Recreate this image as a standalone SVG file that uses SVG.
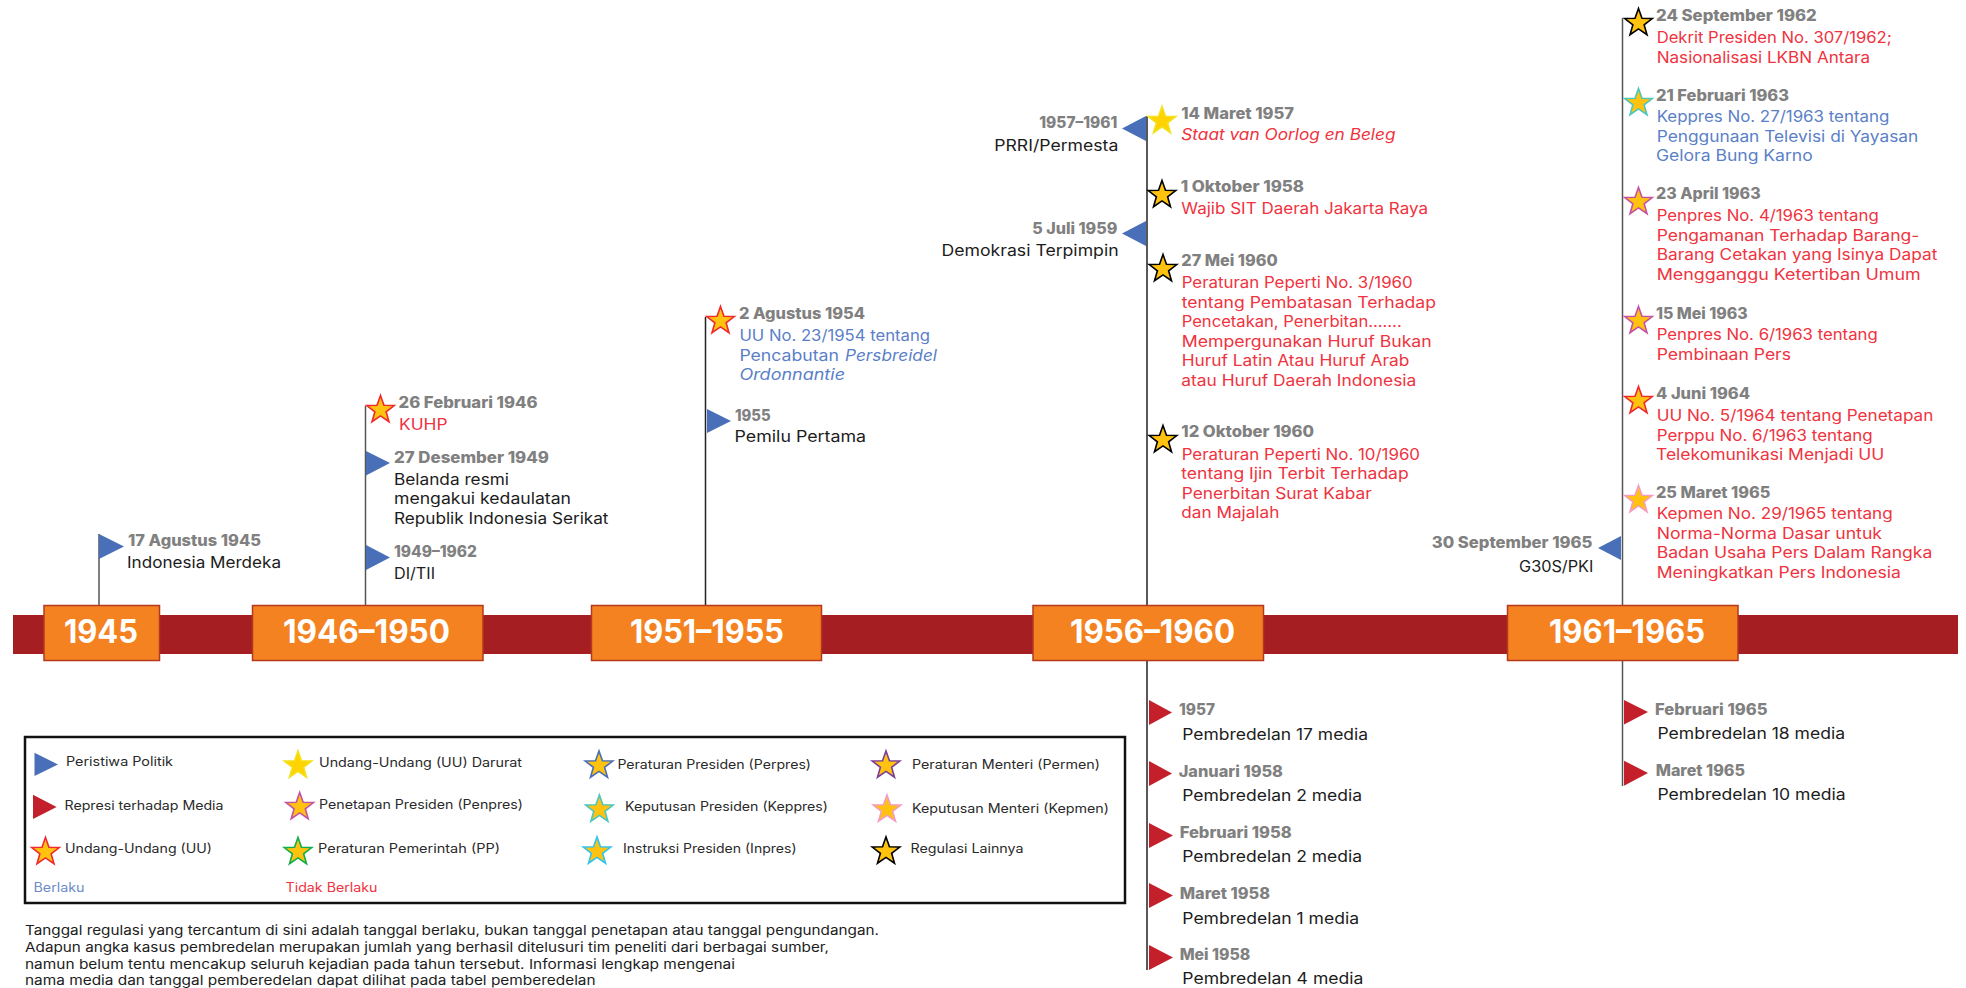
<svg xmlns="http://www.w3.org/2000/svg" width="1966" height="988" viewBox="0 0 1966 988">
<style>
text{font-family:"Inter","Liberation Sans",sans-serif;font-size:15.4px}
.d{font-weight:800;fill:#808080}
.k{fill:#1c1c1c}
.r{fill:#EF3340}
.b{fill:#5B7FC7}
.i{font-style:italic}
.y{font-size:32px;font-weight:700;fill:#fff}
.l{font-size:12.8px;fill:#2a2a2a}
.n{font-size:13px;fill:#1c1c1c}
.box{fill:#F58220;stroke:#B5391E;stroke-width:1.5}
.c{stroke:#555;stroke-width:1.5;fill:none}
.c2{stroke:#222}
.fb{fill:#4A6FB9}
.fr{fill:#C4202B}
.s{fill:#FFC20E;stroke-width:1.6}
.s0{fill:#FFD200;stroke:#F2E21E}
.s1{stroke:#000}.s2{stroke:#EE2A2E}.s3{stroke:#C552A4}.s4{stroke:#4DC6BF}.s5{stroke:#F59CC2}.s6{stroke:#4A6FB9}.s7{stroke:#7A3F9D}.s8{stroke:#12AD4B}.s9{stroke:#2FC4F0}
</style>
<defs>
<polygon id="star" points="0,-14.5 3.47,-4.77 13.79,-4.48 5.61,1.82 8.52,11.73 0,5.9 -8.52,11.73 -5.61,1.82 -13.79,-4.48 -3.47,-4.77"/>
</defs>
<rect id="bar" x="13" y="615" width="1945" height="39" fill="#A51E22"/>
<g id="connectors">
<path class="c" d="M99 534V606"/>
<path class="c" d="M365.5 406V606"/>
<path class="c c2" d="M705.5 317V606"/>
<path class="c c2" d="M1147 116V606"/>
<path class="c c2" d="M1147 660V970"/>
<path class="c" d="M1622.5 18V606"/>
<path class="c" d="M1622.5 660V786"/>
</g>
<g id="period-1945"><rect class="box" x="44" y="605.5" width="115.5" height="55"/><text class="y" x="64" y="642.7" textLength="74" lengthAdjust="spacingAndGlyphs">1945</text></g>
<g id="period-1946"><rect class="box" x="252.5" y="605.5" width="230.5" height="55"/><text class="y" x="283" y="642.7" textLength="167" lengthAdjust="spacingAndGlyphs">1946–1950</text></g>
<g id="period-1951"><rect class="box" x="591.5" y="605.5" width="230" height="55"/><text class="y" x="630" y="642.7" textLength="154" lengthAdjust="spacingAndGlyphs">1951–1955</text></g>
<g id="period-1956"><rect class="box" x="1033" y="605.5" width="230.5" height="55"/><text class="y" x="1070" y="642.7" textLength="165" lengthAdjust="spacingAndGlyphs">1956–1960</text></g>
<g id="period-1961"><rect class="box" x="1507.5" y="605.5" width="230.5" height="55"/><text class="y" x="1549" y="642.7" textLength="156" lengthAdjust="spacingAndGlyphs">1961–1965</text></g>

<g id="e-17agustus1945"><polygon class="fb" points="99,534 124,546.5 99,559"/><text class="d" x="128" y="546" textLength="133" lengthAdjust="spacingAndGlyphs">17 Agustus 1945</text><text class="k" x="127" y="568" textLength="154" lengthAdjust="spacingAndGlyphs">Indonesia Merdeka</text></g>
<g id="e-26feb1946"><use href="#star" x="380.5" y="410" class="s s2"/><text class="d" x="398.5" y="408" textLength="139" lengthAdjust="spacingAndGlyphs">26 Februari 1946</text><text class="r" x="399" y="430" textLength="48.5" lengthAdjust="spacingAndGlyphs">KUHP</text></g>
<g id="e-27des1949"><polygon class="fb" points="366,451 390,463 366,475.5"/><text class="d" x="394" y="463" textLength="155" lengthAdjust="spacingAndGlyphs">27 Desember 1949</text><text class="k" x="394" y="485" textLength="115" lengthAdjust="spacingAndGlyphs">Belanda resmi</text><text class="k" x="394" y="504" textLength="177" lengthAdjust="spacingAndGlyphs">mengakui kedaulatan</text><text class="k" x="394" y="524" textLength="214.5" lengthAdjust="spacingAndGlyphs">Republik Indonesia Serikat</text></g>
<g id="e-1949"><polygon class="fb" points="366,545 390,557.5 366,570"/><text class="d" x="394" y="557" textLength="83" lengthAdjust="spacingAndGlyphs">1949–1962</text><text class="k" x="394" y="579" textLength="41" lengthAdjust="spacingAndGlyphs">DI/TII</text></g>
<g id="e-2agustus1954"><use href="#star" x="720.5" y="321" class="s s2"/><text class="d" x="739" y="319.3" textLength="126" lengthAdjust="spacingAndGlyphs">2 Agustus 1954</text><text class="b" x="739.4" y="341" textLength="190.6" lengthAdjust="spacingAndGlyphs">UU No. 23/1954 tentang</text><text class="b" x="739.4" y="361" textLength="99.6" lengthAdjust="spacingAndGlyphs">Pencabutan</text><text class="b i" x="845" y="361" textLength="92" lengthAdjust="spacingAndGlyphs">Persbreidel</text><text class="b i" x="739.4" y="380" textLength="105.6" lengthAdjust="spacingAndGlyphs">Ordonnantie</text></g>
<g id="e-1955"><polygon class="fb" points="707,409 731,421 707,433"/><text class="d" x="735" y="421" textLength="35.6" lengthAdjust="spacingAndGlyphs">1955</text><text class="k" x="734.6" y="442" textLength="131.4" lengthAdjust="spacingAndGlyphs">Pemilu Pertama</text></g>

<g id="e-1957-1961"><polygon class="fb" points="1146,116 1122,128.5 1146,141"/><text class="d" x="1039.3" y="128.3" textLength="78" lengthAdjust="spacingAndGlyphs">1957–1961</text><text class="k" x="994.3" y="151.3" textLength="124" lengthAdjust="spacingAndGlyphs">PRRI/Permesta</text></g>
<g id="e-5juli1959"><polygon class="fb" points="1146,221 1122,233.5 1146,246"/><text class="d" x="1032.3" y="234" textLength="85" lengthAdjust="spacingAndGlyphs">5 Juli 1959</text><text class="k" x="941.6" y="255.7" textLength="177" lengthAdjust="spacingAndGlyphs">Demokrasi Terpimpin</text></g>
<g id="e-14maret1957"><use href="#star" x="1162" y="121" class="s s0"/><text class="d" x="1181.3" y="119" textLength="112.7" lengthAdjust="spacingAndGlyphs">14 Maret 1957</text><text class="r i" x="1181.3" y="140" textLength="214.2" lengthAdjust="spacingAndGlyphs">Staat van Oorlog en Beleg</text></g>
<g id="e-1okt1958"><use href="#star" x="1162" y="195" class="s s1"/><text class="d" x="1180.7" y="191.7" textLength="123.3" lengthAdjust="spacingAndGlyphs">1 Oktober 1958</text><text class="r" x="1181.3" y="213.7" textLength="246.7" lengthAdjust="spacingAndGlyphs">Wajib SIT Daerah Jakarta Raya</text></g>
<g id="e-27mei1960"><use href="#star" x="1163" y="269" class="s s1"/><text class="d" x="1181.3" y="266" textLength="96.4" lengthAdjust="spacingAndGlyphs">27 Mei 1960</text><text class="r" x="1181.7" y="288.3" textLength="231" lengthAdjust="spacingAndGlyphs">Peraturan Peperti No. 3/1960</text><text class="r" x="1181.7" y="308" textLength="254.3" lengthAdjust="spacingAndGlyphs">tentang Pembatasan Terhadap</text><text class="r" x="1181.7" y="327.3" textLength="220" lengthAdjust="spacingAndGlyphs">Pencetakan, Penerbitan.......</text><text class="r" x="1181.7" y="347" textLength="250" lengthAdjust="spacingAndGlyphs">Mempergunakan Huruf Bukan</text><text class="r" x="1181.7" y="366.3" textLength="227.6" lengthAdjust="spacingAndGlyphs">Huruf Latin Atau Huruf Arab</text><text class="r" x="1181.3" y="386" textLength="235" lengthAdjust="spacingAndGlyphs">atau Huruf Daerah Indonesia</text></g>
<g id="e-12okt1960"><use href="#star" x="1163" y="440" class="s s1"/><text class="d" x="1181.3" y="436.7" textLength="132.7" lengthAdjust="spacingAndGlyphs">12 Oktober 1960</text><text class="r" x="1181.7" y="460" textLength="238.3" lengthAdjust="spacingAndGlyphs">Peraturan Peperti No. 10/1960</text><text class="r" x="1181.3" y="479.3" textLength="227.4" lengthAdjust="spacingAndGlyphs">tentang Ijin Terbit Terhadap</text><text class="r" x="1181.7" y="499" textLength="190" lengthAdjust="spacingAndGlyphs">Penerbitan Surat Kabar</text><text class="r" x="1181.3" y="518.3" textLength="98" lengthAdjust="spacingAndGlyphs">dan Majalah</text></g>

<g id="m-1957"><polygon class="fr" points="1149,700 1172,712.5 1149,725"/><text class="d" x="1179" y="715" textLength="36" lengthAdjust="spacingAndGlyphs">1957</text><text class="k" x="1182.3" y="740" textLength="185.7" lengthAdjust="spacingAndGlyphs">Pembredelan 17 media</text></g>
<g id="m-jan1958"><polygon class="fr" points="1149,761 1172,773.5 1149,786"/><text class="d" x="1178.7" y="777" textLength="104.3" lengthAdjust="spacingAndGlyphs">Januari 1958</text><text class="k" x="1182.3" y="801" textLength="179.7" lengthAdjust="spacingAndGlyphs">Pembredelan 2 media</text></g>
<g id="m-feb1958"><polygon class="fr" points="1149,823 1173,835.5 1149,848"/><text class="d" x="1179.7" y="838" textLength="112" lengthAdjust="spacingAndGlyphs">Februari 1958</text><text class="k" x="1182.3" y="861.7" textLength="179.7" lengthAdjust="spacingAndGlyphs">Pembredelan 2 media</text></g>
<g id="m-mar1958"><polygon class="fr" points="1149,883 1173,895.5 1149,908"/><text class="d" x="1179.7" y="899" textLength="90.3" lengthAdjust="spacingAndGlyphs">Maret 1958</text><text class="k" x="1182.3" y="924" textLength="176.7" lengthAdjust="spacingAndGlyphs">Pembredelan 1 media</text></g>
<g id="m-mei1958"><polygon class="fr" points="1149,945 1173,957.5 1149,970"/><text class="d" x="1179.7" y="960" textLength="70.6" lengthAdjust="spacingAndGlyphs">Mei 1958</text><text class="k" x="1182.3" y="983.7" textLength="181" lengthAdjust="spacingAndGlyphs">Pembredelan 4 media</text></g>

<g id="e-24sep1962"><use href="#star" x="1638.5" y="23" class="s s1"/><text class="d" x="1656" y="20.7" textLength="160.7" lengthAdjust="spacingAndGlyphs">24 September 1962</text><text class="r" x="1656.7" y="42.7" textLength="235" lengthAdjust="spacingAndGlyphs">Dekrit Presiden No. 307/1962;</text><text class="r" x="1656.7" y="63" textLength="213.3" lengthAdjust="spacingAndGlyphs">Nasionalisasi LKBN Antara</text></g>
<g id="e-21feb1963"><use href="#star" x="1638.5" y="103" class="s s4"/><text class="d" x="1656" y="101" textLength="133" lengthAdjust="spacingAndGlyphs">21 Februari 1963</text><text class="b" x="1656.7" y="122" textLength="232.6" lengthAdjust="spacingAndGlyphs">Keppres No. 27/1963 tentang</text><text class="b" x="1656.7" y="141.7" textLength="261.6" lengthAdjust="spacingAndGlyphs">Penggunaan Televisi di Yayasan</text><text class="b" x="1656" y="161" textLength="156.7" lengthAdjust="spacingAndGlyphs">Gelora Bung Karno</text></g>
<g id="e-23apr1963"><use href="#star" x="1638.5" y="202" class="s s3"/><text class="d" x="1656" y="199" textLength="104.7" lengthAdjust="spacingAndGlyphs">23 April 1963</text><text class="r" x="1656.7" y="221.3" textLength="222" lengthAdjust="spacingAndGlyphs">Penpres No. 4/1963 tentang</text><text class="r" x="1656.7" y="240.7" textLength="262.6" lengthAdjust="spacingAndGlyphs">Pengamanan Terhadap Barang-</text><text class="r" x="1656.7" y="260.3" textLength="280.6" lengthAdjust="spacingAndGlyphs">Barang Cetakan yang Isinya Dapat</text><text class="r" x="1656.7" y="280" textLength="264" lengthAdjust="spacingAndGlyphs">Mengganggu Ketertiban Umum</text></g>
<g id="e-15mei1963"><use href="#star" x="1638.5" y="321" class="s s3"/><text class="d" x="1656" y="319.3" textLength="91.7" lengthAdjust="spacingAndGlyphs">15 Mei 1963</text><text class="r" x="1656.7" y="340" textLength="221" lengthAdjust="spacingAndGlyphs">Penpres No. 6/1963 tentang</text><text class="r" x="1656.7" y="360" textLength="134.3" lengthAdjust="spacingAndGlyphs">Pembinaan Pers</text></g>
<g id="e-4juni1964"><use href="#star" x="1638.5" y="401" class="s s2"/><text class="d" x="1656" y="399.3" textLength="94" lengthAdjust="spacingAndGlyphs">4 Juni 1964</text><text class="r" x="1656.7" y="421" textLength="276.6" lengthAdjust="spacingAndGlyphs">UU No. 5/1964 tentang Penetapan</text><text class="r" x="1656.7" y="441" textLength="216" lengthAdjust="spacingAndGlyphs">Perppu No. 6/1963 tentang</text><text class="r" x="1656" y="460.3" textLength="228.3" lengthAdjust="spacingAndGlyphs">Telekomunikasi Menjadi UU</text></g>
<g id="e-25mar1965"><use href="#star" x="1638.5" y="500" class="s s5"/><text class="d" x="1656" y="498" textLength="114.3" lengthAdjust="spacingAndGlyphs">25 Maret 1965</text><text class="r" x="1656.7" y="519" textLength="236" lengthAdjust="spacingAndGlyphs">Kepmen No. 29/1965 tentang</text><text class="r" x="1656.7" y="539" textLength="225.3" lengthAdjust="spacingAndGlyphs">Norma-Norma Dasar untuk</text><text class="r" x="1656.7" y="558" textLength="275.6" lengthAdjust="spacingAndGlyphs">Badan Usaha Pers Dalam Rangka</text><text class="r" x="1656.7" y="578" textLength="244.3" lengthAdjust="spacingAndGlyphs">Meningkatkan Pers Indonesia</text></g>
<g id="e-30sep1965"><polygon class="fb" points="1621,536 1598,548 1621,560"/><text class="d" x="1431.8" y="548.3" textLength="160.6" lengthAdjust="spacingAndGlyphs">30 September 1965</text><text class="k" x="1519" y="571.7" textLength="74.4" lengthAdjust="spacingAndGlyphs">G30S/PKI</text></g>
<g id="m-feb1965"><polygon class="fr" points="1624,700 1648,712 1624,724.5"/><text class="d" x="1655" y="715" textLength="112.5" lengthAdjust="spacingAndGlyphs">Februari 1965</text><text class="k" x="1657.5" y="738.7" textLength="187.5" lengthAdjust="spacingAndGlyphs">Pembredelan 18 media</text></g>
<g id="m-mar1965"><polygon class="fr" points="1624,760.7 1648,773 1624,785.7"/><text class="d" x="1655.7" y="776" textLength="89.3" lengthAdjust="spacingAndGlyphs">Maret 1965</text><text class="k" x="1657.5" y="799.7" textLength="188" lengthAdjust="spacingAndGlyphs">Pembredelan 10 media</text></g>

<g id="legend">
<rect x="25" y="737" width="1100" height="166" fill="none" stroke="#111" stroke-width="2.5"/>
<polygon class="fb" points="34.5,752.7 58,764.5 34.5,776"/><text class="l" x="66" y="765.7" textLength="107" lengthAdjust="spacingAndGlyphs">Peristiwa Politik</text>
<polygon class="fr" points="33,794.7 56.6,807 33,819"/><text class="l" x="64.5" y="810" textLength="159" lengthAdjust="spacingAndGlyphs">Represi terhadap Media</text>
<use href="#star" x="45.5" y="852" class="s s2"/><text class="l" x="65" y="853.3" textLength="147" lengthAdjust="spacingAndGlyphs">Undang-Undang (UU)</text>
<text class="l" x="33.5" y="892" textLength="51" lengthAdjust="spacingAndGlyphs" style="fill:#6C8CCB">Berlaku</text>
<use href="#star" x="298" y="765.5" class="s s0"/><text class="l" x="319" y="767" textLength="203" lengthAdjust="spacingAndGlyphs">Undang-Undang (UU) Darurat</text>
<use href="#star" x="299.7" y="807" class="s s3"/><text class="l" x="319" y="809" textLength="204" lengthAdjust="spacingAndGlyphs">Penetapan Presiden (Penpres)</text>
<use href="#star" x="298" y="852" class="s s8"/><text class="l" x="318" y="853.3" textLength="182" lengthAdjust="spacingAndGlyphs">Peraturan Pemerintah (PP)</text>
<text class="l" x="285.5" y="892" textLength="92" lengthAdjust="spacingAndGlyphs" style="fill:#EF3340">Tidak Berlaku</text>
<use href="#star" x="599" y="765.5" class="s s6"/><text class="l" x="617.4" y="769" textLength="193.6" lengthAdjust="spacingAndGlyphs">Peraturan Presiden (Perpres)</text>
<use href="#star" x="599.4" y="809.5" class="s s4"/><text class="l" x="625" y="811" textLength="203" lengthAdjust="spacingAndGlyphs">Keputusan Presiden (Keppres)</text>
<use href="#star" x="597" y="851.5" class="s s9"/><text class="l" x="623" y="853.3" textLength="173.5" lengthAdjust="spacingAndGlyphs">Instruksi Presiden (Inpres)</text>
<use href="#star" x="886" y="765.5" class="s s7"/><text class="l" x="912" y="769" textLength="188" lengthAdjust="spacingAndGlyphs">Peraturan Menteri (Permen)</text>
<use href="#star" x="887" y="809.5" class="s s5"/><text class="l" x="912" y="813" textLength="197" lengthAdjust="spacingAndGlyphs">Keputusan Menteri (Kepmen)</text>
<use href="#star" x="886" y="851.5" class="s s1"/><text class="l" x="910.5" y="853.3" textLength="113" lengthAdjust="spacingAndGlyphs">Regulasi Lainnya</text>
</g>
<g id="note">
<text class="n" x="25" y="935" textLength="854" lengthAdjust="spacingAndGlyphs">Tanggal regulasi yang tercantum di sini adalah tanggal berlaku, bukan tanggal penetapan atau tanggal pengundangan.</text>
<text class="n" x="25" y="952" textLength="804" lengthAdjust="spacingAndGlyphs">Adapun angka kasus pembredelan merupakan jumlah yang berhasil ditelusuri tim peneliti dari berbagai sumber,</text>
<text class="n" x="25" y="968.7" textLength="710" lengthAdjust="spacingAndGlyphs">namun belum tentu mencakup seluruh kejadian pada tahun tersebut. Informasi lengkap mengenai</text>
<text class="n" x="25" y="985.3" textLength="570.6" lengthAdjust="spacingAndGlyphs">nama media dan tanggal pemberedelan dapat dilihat pada tabel pemberedelan</text>
</g>
</svg>
